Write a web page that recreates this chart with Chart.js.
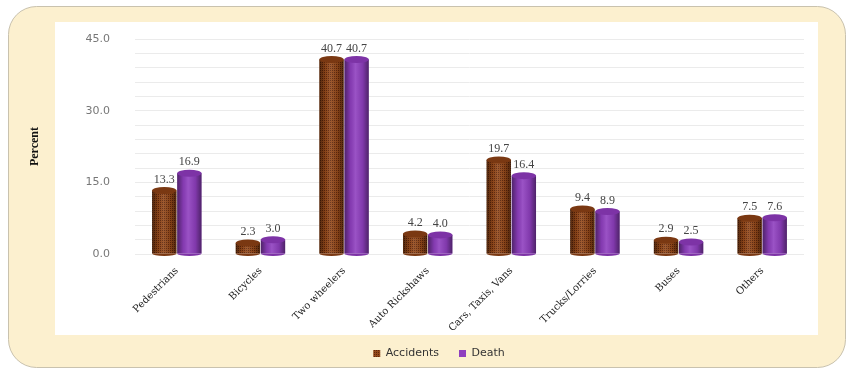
<!DOCTYPE html>
<html>
<head>
<meta charset="utf-8">
<script src="https://cdn.jsdelivr.net/npm/chart.js@4.4.1/dist/chart.umd.min.js"></script>
<style>
  html, body { margin: 0; padding: 0; background: #fff; }
  #wrap { width: 853px; height: 372px; }
</style>
</head>
<body>
<div id="wrap"><canvas id="roadChart" width="853" height="372"></canvas></div>
<script>
const categories = ["Pedestrians","Bicycles","Two wheelers","Auto Rickshaws","Cars, Taxis, Vans","Trucks/Lorries","Buses","Others"];
const accidents = [13.3, 2.3, 40.7, 4.2, 19.7, 9.4, 2.9, 7.5];
const deaths = [16.9, 3.0, 40.7, 4.0, 16.4, 8.9, 2.5, 7.6];
const yTickLabels = [0, 15, 30, 45];

// small dotted texture for the accidents bars
function makeDots(base, dot){
  const c = document.createElement('canvas');
  c.width = 4; c.height = 4;
  const g = c.getContext('2d');
  g.fillStyle = base; g.fillRect(0, 0, 4, 4);
  g.fillStyle = dot;
  g.fillRect(0, 0, 1, 1); g.fillRect(2, 2, 1, 1);
  g.fillRect(2, 0, 1, 1); g.fillRect(0, 2, 1, 1);
  return g.createPattern(c, 'repeat');
}
const ctx = document.getElementById('roadChart').getContext('2d');
const brown = makeDots('#94491a', '#5e250a');
const purple = '#8f3fbf';

function roundRect(c, x, y, w, h, r){
  c.beginPath();
  c.moveTo(x + r, y);
  c.arcTo(x + w, y, x + w, y + h, r);
  c.arcTo(x + w, y + h, x, y + h, r);
  c.arcTo(x, y + h, x, y, r);
  c.arcTo(x, y, x + w, y, r);
  c.closePath();
}

// cream card with a white panel behind the plot
const panelBg = {
  id: 'panelBg',
  beforeDraw(chart){
    const c = chart.ctx;
    c.save();
    c.fillStyle = '#ffffff';
    c.fillRect(0, 0, chart.width, chart.height);
    roundRect(c, 8.5, 6.5, 837, 361, 28);
    c.fillStyle = '#fcf0cf';
    c.fill();
    c.strokeStyle = '#c9c2ae';
    c.lineWidth = 1;
    c.stroke();
    c.fillStyle = '#ffffff';
    c.fillRect(55, 22, 763, 313);
    c.restore();
  }
};

// nudge the legend a little right of centre and up
const legendNudge = {
  id: 'legendNudge',
  afterLayout(chart){
    const lg = chart.legend;
    lg.left += 25; lg.right += 25;
    lg.top -= 2; lg.bottom -= 2;
  }
};

// cylinder shading and value labels on top of each bar
const barDecor = {
  id: 'barDecor',
  afterDatasetsDraw(chart){
    const c = chart.ctx;
    const caps = ['#7a3812', '#7d33a6'];
    chart.data.datasets.forEach((ds, i) => {
      const meta = chart.getDatasetMeta(i);
      meta.data.forEach((bar, j) => {
        const w = bar.width, left = bar.x - w / 2;
        const g = c.createLinearGradient(left, 0, left + w, 0);
        g.addColorStop(0, 'rgba(0,0,0,0.45)');
        g.addColorStop(0.25, 'rgba(0,0,0,0.08)');
        g.addColorStop(0.45, 'rgba(255,255,255,0.10)');
        g.addColorStop(0.75, 'rgba(0,0,0,0.10)');
        g.addColorStop(1, 'rgba(0,0,0,0.45)');
        c.save();
        c.fillStyle = g;
        c.fillRect(left, bar.y, w, bar.base - bar.y);
        c.beginPath();
        c.ellipse(bar.x, bar.y, w / 2, 3.5, 0, 0, Math.PI * 2);
        c.fillStyle = caps[i];
        c.fill();
        c.beginPath();
        c.ellipse(bar.x, bar.base, w / 2, 2.5, 0, 0, Math.PI);
        c.fill();
        c.fillStyle = '#444';
        c.font = '12px "Liberation Serif"';
        c.textAlign = 'center';
        c.textBaseline = 'bottom';
        c.fillText(ds.data[j].toFixed(1), bar.x, bar.y - 5);
        c.restore();
      });
    });
  }
};

new Chart(ctx, {
  type: 'bar',
  data: {
    labels: categories,
    datasets: [
      { label: 'Accidents', data: accidents, backgroundColor: brown,
        categoryPercentage: 0.6, barPercentage: 0.97 },
      { label: 'Death', data: deaths, backgroundColor: purple,
        categoryPercentage: 0.6, barPercentage: 0.97 }
    ]
  },
  options: {
    responsive: false,
    animation: false,
    layout: { padding: { left: 24, right: 49, top: 39, bottom: 2 } },
    plugins: {
      tooltip: { enabled: false },
      legend: {
        position: 'bottom',
        maxHeight: 40,
        labels: {
          boxWidth: 7, boxHeight: 7, padding: 20,
          color: '#333',
          font: { family: '"DejaVu Sans"', size: 11 }
        }
      }
    },
    scales: {
      x: {
        grid: { display: false },
        border: { display: false },
        ticks: {
          color: '#222',
          maxRotation: 45, minRotation: 45,
          font: { family: '"DejaVu Serif"', size: 10 }
        },
        afterFit(scale){ scale.height = 76; }
      },
      y: {
        min: 0, max: 45,
        grid: { color: '#ebebeb', drawTicks: false },
        border: { display: false },
        ticks: {
          stepSize: 3, autoSkip: false, padding: 25,
          color: '#777',
          font: { family: '"DejaVu Sans"', size: 11 },
          callback: v => yTickLabels.includes(v) ? v.toFixed(1) : ''
        },
        title: {
          display: true, text: 'Percent', color: '#111',
          font: { family: '"Liberation Serif"', size: 12, weight: 'bold' }
        },
        afterFit(scale){ scale.width = 111; }
      }
    }
  },
  plugins: [panelBg, legendNudge, barDecor]
});
</script>
</body>
</html>
